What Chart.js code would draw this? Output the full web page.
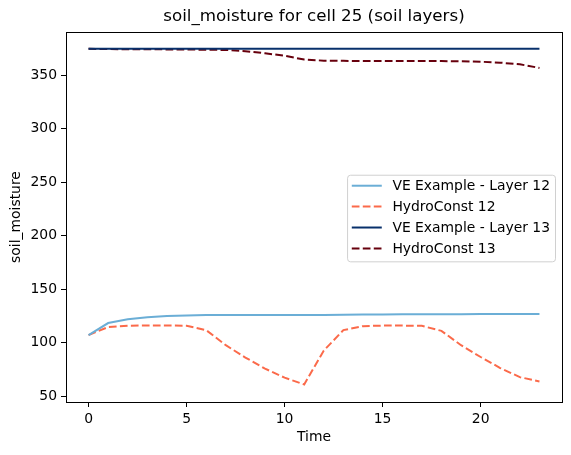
<!DOCTYPE html>
<html>
<head>
<meta charset="utf-8">
<script src="https://cdn.jsdelivr.net/npm/chart.js@4"></script>
<style>
  html, body { margin: 0; padding: 0; background: #fff; }
  #wrap { width: 571px; height: 455px; }
</style>
</head>
<body>
<div id="wrap"><canvas id="graf" width="571" height="455"></canvas></div>
<script>
// --- data ---
const casy = [0, 1, 2, 3, 4, 5, 6, 7, 8, 9, 10, 11, 12, 13, 14, 15, 16, 17, 18, 19, 20, 21, 22, 23];
const veLayer12 = [107.2, 118.5, 122, 124, 125, 125.6, 126, 126, 126, 126, 126, 126, 126.1, 126.2, 126.4, 126.5, 126.6, 126.7, 126.8, 126.8, 126.9, 126.9, 127, 127];
const hydro12 = [107.2, 114.8, 116, 116.2, 116.2, 116, 111.9, 97.8, 86.3, 76, 67.5, 61.2, 92.8, 111.9, 115.6, 116.1, 116.1, 115.9, 111.2, 97.8, 86.8, 76.5, 68, 64];
const veLayer13 = [374.4, 374.4, 374.4, 374.4, 374.4, 374.4, 374.4, 374.4, 374.4, 374.4, 374.4, 374.4, 374.4, 374.4, 374.4, 374.4, 374.4, 374.4, 374.4, 374.4, 374.4, 374.4, 374.4, 374.4];
const hydro13 = [374.4, 374.2, 374.1, 374, 373.9, 373.8, 373.6, 373.4, 372.2, 370.3, 368, 364.4, 363.4, 363.2, 363.1, 363.1, 363, 363, 363, 362.8, 362.4, 361.5, 360, 356.6];
const xTicky = [0, 5, 10, 15, 20];
const yTicky = [50, 100, 150, 200, 250, 300, 350];

const font = "'DejaVu Sans', sans-serif";
const body = (arr) => casy.map((t, i) => ({ x: t, y: arr[i] }));

// legenda uvnitř grafu (vpravo uprostřed) + rámeček kolem plochy
const ramecekALegenda = {
  id: 'ramecekALegenda',
  afterDraw(chart) {
    const ctx = chart.ctx;
    const a = chart.chartArea;
    ctx.save();
    ctx.strokeStyle = '#000';
    ctx.lineWidth = 1;
    ctx.strokeRect(Math.round(a.left) + 0.5, Math.round(a.top) + 0.5,
      Math.round(a.right - a.left), Math.round(a.bottom - a.top));

    const fs = 13.9;
    ctx.font = fs + 'px ' + font;
    const ds = chart.data.datasets;
    let textW = 0;
    ds.forEach(d => { textW = Math.max(textW, ctx.measureText(d.label).width); });
    const radek = 20.9;
    const w = 4.7 + 30 + 10.6 + textW + 5;
    const h = ds.length * radek + 3;
    const x0 = a.right - 7 - w;
    const y0 = (a.top + a.bottom) / 2 - h / 2 + 1;

    ctx.fillStyle = 'rgba(255,255,255,0.8)';
    ctx.strokeStyle = '#d0d0d0';
    ctx.beginPath();
    ctx.roundRect(x0 + 0.5, y0 + 0.5, w, h, 3);
    ctx.fill();
    ctx.stroke();

    ds.forEach((d, i) => {
      const yy = y0 + 11 + i * radek;
      ctx.strokeStyle = d.borderColor;
      ctx.lineWidth = d.borderWidth;
      ctx.setLineDash(d.borderDash || []);
      ctx.beginPath();
      ctx.moveTo(x0 + 4.7, yy);
      ctx.lineTo(x0 + 34.7, yy);
      ctx.stroke();
      ctx.setLineDash([]);
      ctx.fillStyle = '#000';
      ctx.textBaseline = 'middle';
      ctx.textAlign = 'left';
      ctx.fillText(d.label, x0 + 45.3, yy + 1);
    });
    ctx.restore();
  }
};

new Chart(document.getElementById('graf').getContext('2d'), {
  type: 'line',
  data: {
    datasets: [
      {
        label: 'VE Example - Layer 12',
        data: body(veLayer12),
        borderColor: '#6baed6',
        borderWidth: 2,
        pointRadius: 0,
        tension: 0
      },
      {
        label: 'HydroConst 12',
        data: body(hydro12),
        borderColor: '#fb6a4a',
        borderWidth: 2,
        borderDash: [7.7, 3.3],
        pointRadius: 0,
        tension: 0
      },
      {
        label: 'VE Example - Layer 13',
        data: body(veLayer13),
        borderColor: '#08306b',
        borderWidth: 2,
        pointRadius: 0,
        tension: 0
      },
      {
        label: 'HydroConst 13',
        data: body(hydro13),
        borderColor: '#67000d',
        borderWidth: 2,
        borderDash: [7.7, 3.3],
        pointRadius: 0,
        tension: 0
      }
    ]
  },
  options: {
    responsive: false,
    animation: false,
    layout: { padding: { left: 0, right: 9, top: 0, bottom: 0 } },
    plugins: {
      legend: { display: false },
      tooltip: { enabled: false },
      title: {
        display: true,
        fullSize: false,
        text: 'soil_moisture for cell 25 (soil layers)',
        color: '#000',
        font: { family: font, size: 16.7, weight: 'normal' },
        padding: { top: 7, bottom: 5 }
      }
    },
    scales: {
      x: {
        type: 'linear',
        min: -1.15,
        max: 24.15,
        afterBuildTicks: s => { s.ticks = xTicky.map(v => ({ value: v })); },
        afterFit: s => { s.height = 53; },
        grid: { drawOnChartArea: false, drawTicks: true, tickLength: 5, color: '#000' },
        border: { display: false },
        ticks: { color: '#000', font: { family: font, size: 13.9 }, padding: 4, maxRotation: 0 },
        title: { display: true, text: 'Time', color: '#000', font: { family: font, size: 13.9 }, padding: { top: 0, bottom: 9 } }
      },
      y: {
        min: 44.8,
        max: 390.1,
        afterBuildTicks: s => { s.ticks = yTicky.map(v => ({ value: v })); },
        afterFit: s => { s.width = 66; },
        grid: { drawOnChartArea: false, drawTicks: true, tickLength: 5, color: '#000' },
        border: { display: false },
        ticks: { color: '#000', font: { family: font, size: 13.9 }, padding: 4 },
        title: { display: true, text: 'soil_moisture', color: '#000', font: { family: font, size: 13.9 }, padding: { top: 8, bottom: 0 } }
      }
    }
  },
  plugins: [ramecekALegenda]
});
</script>
</body>
</html>
